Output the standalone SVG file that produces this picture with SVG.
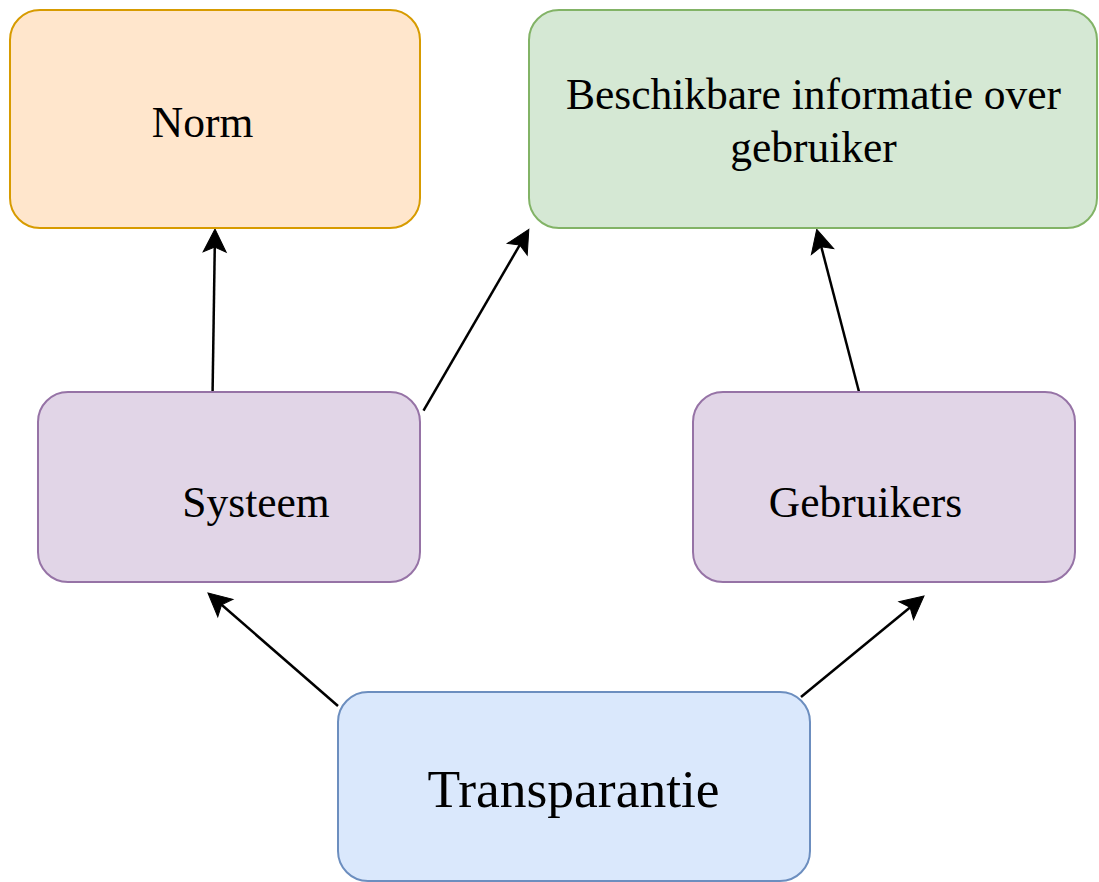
<svg xmlns="http://www.w3.org/2000/svg" width="1099" height="882" viewBox="0 0 1099 882">
<style>
.box{stroke-width:2}
.orange{fill:#ffe6cc;stroke:#d79b00}
.green{fill:#d5e8d4;stroke:#82b366}
.purple{fill:#e1d5e7;stroke:#9673a6}
.blue{fill:#dae8fc;stroke:#6c8ebf}
.lbl{font-family:"Liberation Serif","Times New Roman",serif;fill:#000;text-anchor:middle;font-size:43.5px}
.big{font-size:53.5px}
.edge{fill:none;stroke:#000;stroke-width:2.5}
</style>
<defs>
<marker id="arr" markerUnits="userSpaceOnUse" markerWidth="40" markerHeight="30" viewBox="-10 -15 30 30" refX="0" refY="0" orient="auto" overflow="visible">
<path d="M15,0 L-8,-11.5 L-3,0 L-8,11.5 Z" fill="#000" stroke="#000" stroke-width="1" stroke-linejoin="miter"/>
</marker>
</defs>
<rect width="1099" height="882" fill="#fff"/>
<g id="connectors">
<line class="edge" x1="212.6" y1="391" x2="214.8" y2="244" marker-end="url(#arr)"/>
<line class="edge" x1="423.5" y1="410.7" x2="521.3" y2="242.3" marker-end="url(#arr)"/>
<line class="edge" x1="859" y1="391.7" x2="820.5" y2="243.8" marker-end="url(#arr)"/>
<line class="edge" x1="338" y1="706" x2="219.3" y2="602.8" marker-end="url(#arr)"/>
<line class="edge" x1="801" y1="697" x2="912.4" y2="605.5" marker-end="url(#arr)"/>
</g>
<g id="norm">
<rect class="box orange" x="10" y="10" width="410" height="218" rx="30" ry="30"/>
<text class="lbl" x="202.5" y="137">Norm</text>
</g>
<g id="beschikbare">
<rect class="box green" x="529" y="10" width="568" height="218" rx="30" ry="30"/>
<text class="lbl" x="813.5" y="109.3">Beschikbare informatie over</text>
<text class="lbl" x="813.5" y="162">gebruiker</text>
</g>
<g id="systeem">
<rect class="box purple" x="38" y="392" width="382" height="190" rx="30" ry="30"/>
<text class="lbl" x="256" y="517">Systeem</text>
</g>
<g id="gebruikers">
<rect class="box purple" x="693" y="392" width="382" height="190" rx="30" ry="30"/>
<text class="lbl" x="865.5" y="517">Gebruikers</text>
</g>
<g id="transparantie">
<rect class="box blue" x="338" y="692" width="472" height="189" rx="30" ry="30"/>
<text class="lbl big" x="573.5" y="806.7">Transparantie</text>
</g>
</svg>
